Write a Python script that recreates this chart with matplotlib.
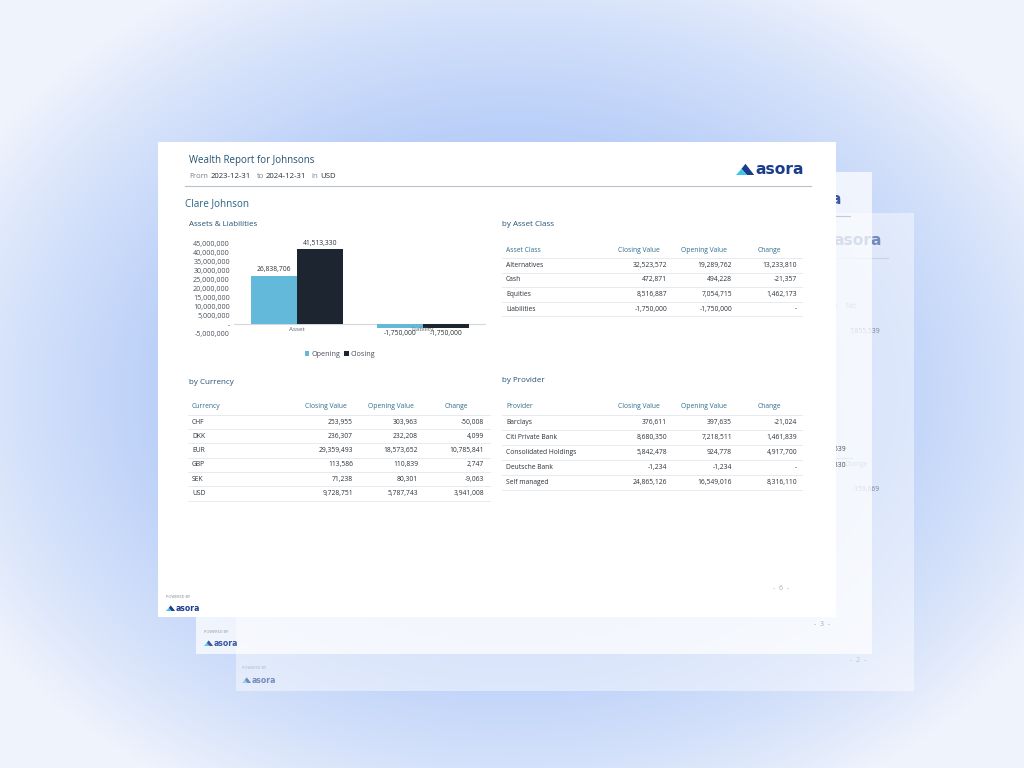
import matplotlib
matplotlib.use("Agg")
import matplotlib.pyplot as plt
import numpy as np
from matplotlib.patches import Rectangle, Polygon
from matplotlib.ticker import FuncFormatter, MultipleLocator

plt.rcParams["font.family"] = ["Open Sans", "DejaVu Sans"]

W, H = 1024, 768

# assets & liabilities chart
bar_categories = ["Asset", "Liability"]
bar_opening = [26838706, -1750000]
bar_closing = [41513330, -1750000]

# by asset class
asset_classes = ["Alternatives", "Cash", "Equities", "Liabilities"]
asset_closing = [32523572, 472871, 8516887, -1750000]
asset_opening = [19289762, 494228, 7054715, -1750000]
asset_change = [13233810, -21357, 1462173, 0]

# by currency
currencies = ["CHF", "DKK", "EUR", "GBP", "SEK", "USD"]
cur_closing = [253955, 236307, 29359493, 113586, 71238, 9728751]
cur_opening = [303963, 232208, 18573652, 110839, 80301, 5787743]
cur_change = [-50008, 4099, 10785841, 2747, -9063, 3941008]

# by provider
providers = ["Barclays", "Citi Private Bank", "Consolidated Holdings",
             "Deutsche Bank", "Self managed"]
prov_closing = [376611, 8680350, 5842478, -1234, 24865126]
prov_opening = [397635, 7218511, 924778, -1234, 16549016]
prov_change = [-21024, 1461839, 4917700, 0, 8316110]

OPEN_C = "#62b9da"
CLOSE_C = "#1c2530"
TITLE_C = "#235274"
HEAD_C = "#2f6d8c"
TEXT_C = "#2c3238"
RULE_C = "#e3e7ec"
LOGO_C = "#1b3c8c"
TS = 4.9  # table text size


def fmt(v):
    return "-" if v == 0 else f"{v:,.0f}"


def draw_logo(ax, x, y, size, alpha=1.0, z=6):
    """Triangle mark plus 'asora' wordmark; (x, y) is the lower-left of the mark."""
    h = size * 0.8
    w = size * 1.3
    cyan = [(x, y), (x + 0.3 * w, y - 0.55 * h), (x + 0.6 * w, y)]
    navy = [(x + 0.3 * w, y - 0.55 * h), (x + 0.52 * w, y - h),
            (x + w, y), (x + 0.6 * w, y)]
    ax.add_patch(Polygon(navy, closed=True, color=LOGO_C, alpha=alpha, lw=0, zorder=z))
    ax.add_patch(Polygon(cyan, closed=True, color="#3cc6ea", alpha=alpha, lw=0, zorder=z))
    ax.text(x + w + size * 0.1, y - h * 0.45, "asora", fontsize=size * 0.8,
            family="DejaVu Sans", weight="bold", color=LOGO_C,
            alpha=alpha, va="center", ha="left", zorder=z)


def draw_table(ax, x0, x1, y_head, step, headers, labels, cols, head_x, val_x, z=6):
    ax.text(x0 + 4, y_head, headers[0], fontsize=TS, color=HEAD_C,
            va="center", ha="left", zorder=z)
    for hx, ht in zip(head_x, headers[1:]):
        ax.text(hx, y_head, ht, fontsize=TS, color=HEAD_C,
                va="center", ha="center", zorder=z)
    y_line = y_head + step * 0.55
    ax.plot([x0, x1], [y_line, y_line], color=RULE_C, lw=0.6, zorder=z)
    for i, lab in enumerate(labels):
        yr = y_line + step * (i + 0.5)
        ax.text(x0 + 4, yr, lab, fontsize=TS, color=TEXT_C,
                va="center", ha="left", zorder=z)
        for vx, col in zip(val_x, cols):
            ax.text(vx, yr, fmt(col[i]), fontsize=TS, color=TEXT_C,
                    va="center", ha="right", zorder=z)
        yl = y_line + step * (i + 1)
        ax.plot([x0, x1], [yl, yl], color=RULE_C, lw=0.6, zorder=z)


fig = plt.figure(figsize=(W / 100, H / 100), dpi=100)
ax = fig.add_axes([0, 0, 1, 1])
ax.set_xlim(0, W)
ax.set_ylim(H, 0)
ax.axis("off")

# soft radial backdrop
yy, xx = np.mgrid[0:H, 0:W]
r = np.sqrt(((xx - 512) / 620.0) ** 2 + ((yy - 390) / 470.0) ** 2)
t = np.clip(r, 0, 1) ** 1.8
c0 = np.array([0.62, 0.74, 0.965])
c1 = np.array([0.94, 0.955, 0.99])
bg = c0[None, None, :] * (1 - t[..., None]) + c1[None, None, :] * t[..., None]
ax.imshow(bg, extent=(0, W, H, 0), zorder=0, aspect="auto")

# back page (page 2)
ax.add_patch(Rectangle((236, 213), 678, 478, color="white", alpha=0.45, lw=0, zorder=1))
a2 = 0.55
draw_logo(ax, 814, 246, 14, alpha=a2, z=2)
ax.plot([263, 888], [258, 258], color="#b8c2cc", lw=0.8, alpha=a2, zorder=2)
ax.text(838, 307, "Liabilities", fontsize=TS, color=HEAD_C, ha="right", va="center", alpha=a2, zorder=2)
ax.text(845, 307, "Net", fontsize=TS, color=HEAD_C, ha="left", va="center", alpha=a2, zorder=2)
ax.text(880, 332, "7,855,539", fontsize=TS, color=TEXT_C, ha="right", va="center", alpha=a2, zorder=2)
ax.text(845, 465, "Change", fontsize=TS, color=HEAD_C, ha="left", va="center", alpha=a2, zorder=2)
ax.text(880, 490, "-159,669", fontsize=TS, color=TEXT_C, ha="right", va="center", alpha=a2, zorder=2)
for yl in (318, 345, 476, 503):
    ax.plot([580, 890], [yl, yl], color=RULE_C, lw=0.6, alpha=a2, zorder=2)
ax.text(858, 660, "-  2  -", fontsize=5, color="#9aa3ad", ha="center", va="center", alpha=a2, zorder=2)
ax.text(242, 668, "POWERED BY", fontsize=2.8, color="#7d8794", ha="left", va="center", alpha=a2, zorder=2)
draw_logo(ax, 242, 683, 7, alpha=a2, z=2)

# middle page (page 3)
ax.add_patch(Rectangle((196, 172), 676, 482, color="white", alpha=0.72, lw=0, zorder=3))
a3 = 0.85
draw_logo(ax, 774, 205, 14, alpha=a3, z=4)
ax.plot([223, 850], [216, 216], color="#b8c2cc", lw=0.8, alpha=a3, zorder=4)
ax.text(846, 450, "7,855,539", fontsize=TS, color=TEXT_C, ha="right", va="center", alpha=a3, zorder=4)
ax.text(846, 466, "41,513,330", fontsize=TS, color=TEXT_C, ha="right", va="center", alpha=a3, zorder=4)
ax.plot([540, 852], [458, 458], color=RULE_C, lw=0.6, alpha=a3, zorder=4)
ax.text(822, 624, "-  3  -", fontsize=5, color="#9aa3ad", ha="center", va="center", alpha=a3, zorder=4)
ax.text(204, 632, "POWERED BY", fontsize=2.8, color="#7d8794", ha="left", va="center", alpha=a3, zorder=4)
draw_logo(ax, 204, 646, 7, alpha=a3, z=4)

# front page (page 6)
ax.add_patch(Rectangle((158, 142), 678, 475, color="white", lw=0, zorder=5))
ax.text(189, 160, "Wealth Report for Johnsons", fontsize=7, color=TITLE_C,
        ha="left", va="center", zorder=6)
for px, piece, col in [(189, "From", "#7b838c"), (211, "2023-12-31", "#2a3038"),
                       (257, "to", "#7b838c"), (266, "2024-12-31", "#2a3038"),
                       (311, "in", "#7b838c"), (320, "USD", "#2a3038")]:
    ax.text(px, 176, piece, fontsize=5.6, color=col, ha="left", va="center", zorder=6)
draw_logo(ax, 736, 175, 14, z=6)
ax.plot([185, 811], [185.5, 185.5], color="#b8c2cc", lw=0.8, zorder=6)
ax.text(185, 204, "Clare Johnson", fontsize=7.1, color="#2a6485",
        ha="left", va="center", zorder=6)
for tx, ty, title in [(189, 225, "Assets & Liabilities"), (502, 225, "by Asset Class"),
                      (189, 383, "by Currency"), (502, 380, "by Provider")]:
    ax.text(tx, ty, title, fontsize=5.8, color=TITLE_C, ha="left", va="center", zorder=6)

draw_table(ax, 502, 802, 250, 14.6, ["Asset Class", "Closing Value", "Opening Value", "Change"],
           asset_classes, [asset_closing, asset_opening, asset_change],
           [638.5, 703.5, 769], [667, 732, 797])
draw_table(ax, 188, 490, 407, 14.3, ["Currency", "Closing Value", "Opening Value", "Change"],
           currencies, [cur_closing, cur_opening, cur_change],
           [325.5, 391, 456], [353, 418, 484])
draw_table(ax, 502, 802, 407, 14.9, ["Provider", "Closing Value", "Opening Value", "Change"],
           providers, [prov_closing, prov_opening, prov_change],
           [638.5, 703.5, 769], [667, 732, 797])

ax.text(781, 589, "-  6  -", fontsize=5, color="#a9b0b8", ha="center", va="center", zorder=6)
ax.text(166, 597, "POWERED BY", fontsize=2.8, color="#7d8794", ha="left", va="center", zorder=6)
draw_logo(ax, 166, 611, 7, z=6)

# bar chart
bx0, bx1 = 234, 486
by_top, by_bot = 243, 333.5
axb = fig.add_axes([bx0 / W, 1 - by_bot / H, (bx1 - bx0) / W, (by_bot - by_top) / H])
axb.patch.set_alpha(0)
for s in axb.spines.values():
    s.set_visible(False)
x = np.arange(len(bar_categories))
bw = 0.365
b_open = axb.bar(x - bw / 2, bar_opening, bw, color=OPEN_C, label="Opening", zorder=2)
b_close = axb.bar(x + bw / 2, bar_closing, bw, color=CLOSE_C, label="Closing", zorder=2)
axb.axhline(0, color="#d3d8de", lw=0.8, zorder=1)
axb.set_xlim(-0.5, 1.5)
axb.set_ylim(-5e6, 45e6)
axb.yaxis.set_major_locator(MultipleLocator(5e6))
axb.yaxis.set_major_formatter(FuncFormatter(lambda v, p: fmt(v)))
axb.tick_params(axis="y", length=0, pad=3, labelsize=5.1, labelcolor="#4a5058")
axb.set_xticks([])

for bars in (b_open, b_close):
    for rect, val in zip(bars, bars.datavalues):
        cx = rect.get_x() + rect.get_width() / 2
        if val >= 0:
            axb.annotate(fmt(val), (cx, val), xytext=(0, 2), textcoords="offset points",
                         ha="center", va="bottom", fontsize=4.9, color=TEXT_C)
        else:
            axb.annotate(fmt(val), (cx, val), xytext=(0, -1.5), textcoords="offset points",
                         ha="center", va="top", fontsize=4.9, color=TEXT_C)
for xi, cat in zip(x, bar_categories):
    axb.annotate(cat, (xi, 0), xytext=(0, -1.5), textcoords="offset points",
                 ha="center", va="top", fontsize=4.5, color="#5d646c")

axb.legend(loc="upper center", bbox_to_anchor=((340 - bx0) / (bx1 - bx0), -0.12),
           ncol=2, frameon=False, fontsize=5.2, handlelength=0.6, handleheight=0.6,
           handletextpad=0.3, columnspacing=0.6, labelcolor="#4a5058")

fig.savefig("out.png", dpi=100)
